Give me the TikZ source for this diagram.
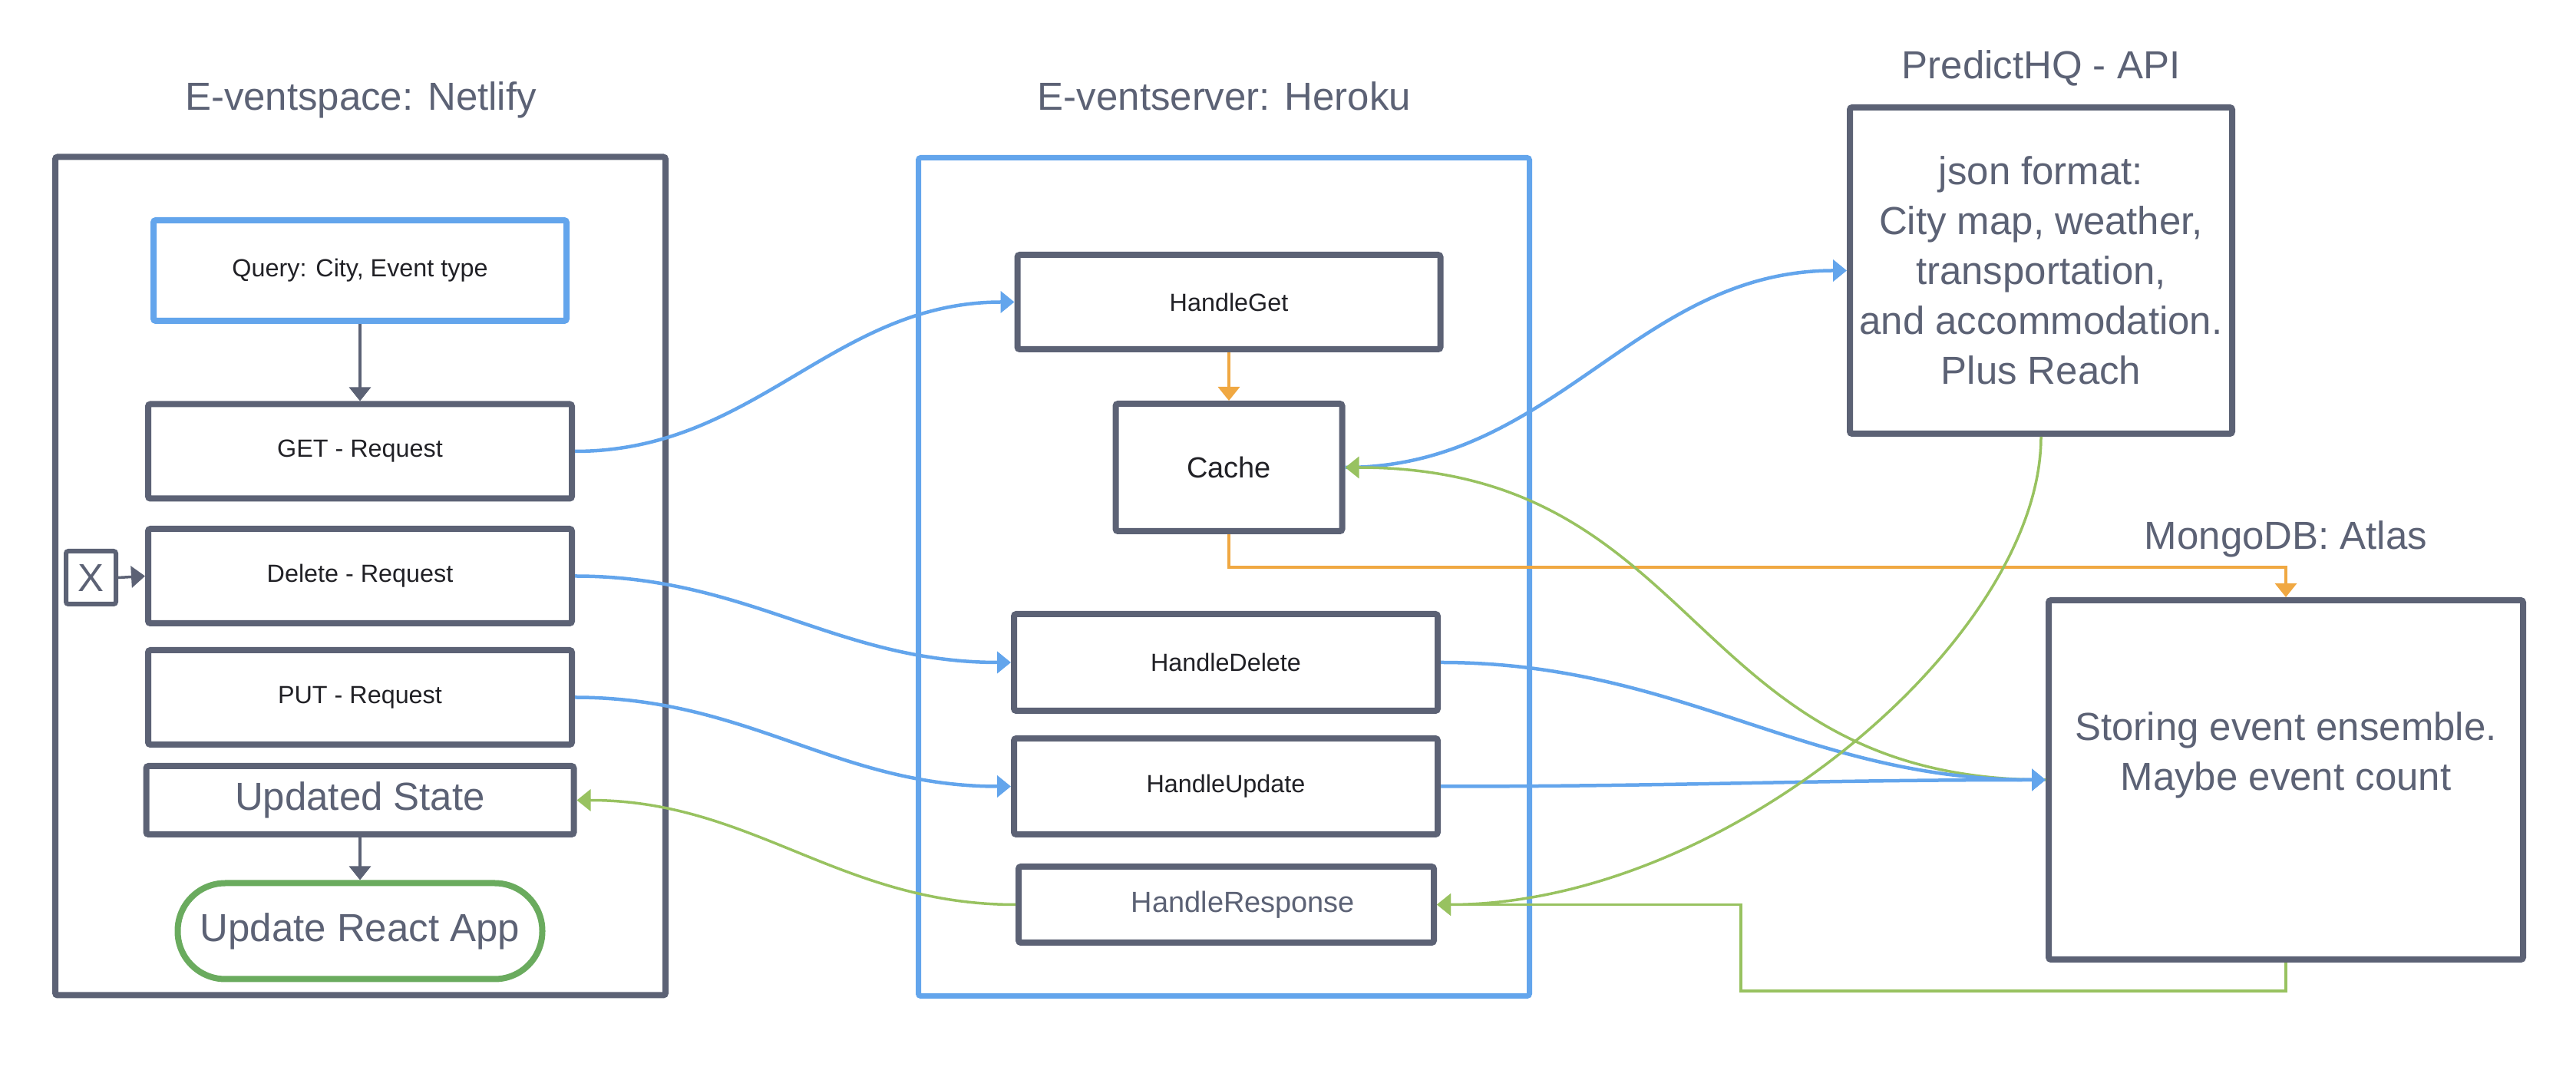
\documentclass[tikz,border=0pt]{standalone}
\usepackage{fontspec}
\setmainfont{Liberation Sans}
\usetikzlibrary{arrows.meta}

\definecolor{frame}{RGB}{92,98,117}
\definecolor{ink}{RGB}{33,33,38}
\definecolor{lineblue}{RGB}{99,165,236}
\definecolor{linegreen}{RGB}{152,194,96}
\definecolor{appgreen}{RGB}{106,171,94}
\definecolor{lineorange}{RGB}{240,168,66}

\newcommand{\bigtxt}{\fontsize{14.5}{18.5}\selectfont}
\newcommand{\midtxt}{\fontsize{10.8}{13}\selectfont}
\newcommand{\smalltxt}{\fontsize{9.2}{11}\selectfont}

\begin{document}
\begin{tikzpicture}[
  box/.style={draw=frame, line width=0.08cm, rounded corners=0.03cm, fill=white, inner sep=0pt, text=ink, font=\smalltxt},
  title/.style={text=frame, font=\bigtxt, anchor=base},
  flowtip/.style={-{Triangle[length=0.18cm,width=0.28cm]}},
  grayline/.style={flowtip, draw=frame, line width=0.035cm},
  blueline/.style={flowtip, draw=lineblue, line width=0.045cm},
  greenline/.style={flowtip, draw=linegreen, line width=0.035cm},
  orangeline/.style={flowtip, draw=lineorange, line width=0.035cm}
]
\useasboundingbox (0,0) rectangle (33.56,14.2);

%Containers
\node[draw=frame, line width=0.08cm, rounded corners=0.03cm, minimum width=7.95cm, minimum height=10.92cm, inner sep=0pt] (netlify) at (4.695,6.695) {};
\node[draw=lineblue, line width=0.07cm, rounded corners=0.03cm, minimum width=7.96cm, minimum height=10.92cm, inner sep=0pt] (heroku) at (15.945,6.685) {};

%Titles
\node[title] (netlifytitle) at (4.70,12.76) {E-ventspace: Netlify};
\node[title] (herokutitle) at (15.95,12.76) {E-ventserver: Heroku};
\node[title] (predicttitle) at (26.59,13.17) {PredictHQ - API};
\node[title] (mongotitle) at (29.78,7.04) {MongoDB: Atlas};

%Netlify
\node[box, draw=lineblue, minimum width=5.38cm, minimum height=1.31cm] (query) at (4.69,10.675) {Query: City, Event type};
\foreach \n/\y/\t in {get/8.32/GET - Request, del/6.695/Delete - Request, put/5.115/PUT - Request}
	\node[box, minimum width=5.52cm, minimum height=1.23cm] (\n) at (4.69,\y) {\t};
\node[box, text=frame, font=\bigtxt, minimum width=5.57cm, minimum height=0.89cm] (state) at (4.69,3.775) {Updated State};
\node[box, draw=appgreen, text=frame, font=\bigtxt, rounded corners=0.62cm, minimum width=4.75cm, minimum height=1.25cm] (react) at (4.69,2.07) {Update React App};
\node[box, text=frame, font=\bigtxt, line width=0.06cm, minimum width=0.65cm, minimum height=0.69cm] (xbtn) at (1.185,6.675) {X};

%Heroku
\node[box, minimum width=5.51cm, minimum height=1.23cm] (hget) at (16.01,10.265) {HandleGet};
\node[box, font=\midtxt, minimum width=2.95cm, minimum height=1.66cm] (cache) at (16.01,8.11) {Cache};
\node[box, minimum width=5.52cm, minimum height=1.26cm] (hdel) at (15.97,5.57) {HandleDelete};
\node[box, minimum width=5.52cm, minimum height=1.25cm] (hupd) at (15.97,3.955) {HandleUpdate};
\node[box, text=frame, font=\midtxt, minimum width=5.41cm, minimum height=0.99cm] (hresp) at (15.975,2.415) {\hspace{0.44cm}HandleResponse};

%API ja tietokanta
\node[box, text=frame, font=\bigtxt, align=center, minimum width=4.98cm, minimum height=4.25cm] (predict) at (26.59,10.675) {json format:\\City map, weather,\\transportation,\\and accommodation.\\Plus Reach};
\node[box, minimum width=6.18cm, minimum height=4.68cm] (mongo) at (29.78,4.04) {};
\node[text=frame, font=\bigtxt, align=center, inner sep=0pt] (mongotext) at (29.78,4.36) {Storing event ensemble.\\Maybe event count};

%Nuolet
\draw[grayline] (query.south) -- (get.north);
\draw[grayline] (xbtn.east) -- (del.west);
\draw[grayline] (state.south) -- (react.north);
\foreach \a/\b in {get/hget, del/hdel, put/hupd}
	\draw[blueline] (\a.east) to[out=0,in=180] (\b.west);
\draw[greenline] (hresp.west) to[out=180,in=0] (state.east);
\draw[orangeline] (hget.south) -- (cache.north);
\draw[orangeline] (cache.south) -- ++(0,-0.43) -| (mongo.north);
\draw[blueline] (cache.east) to[out=0,in=180] (predict.west);
\draw[greenline] (mongo.west) to[out=180,in=0,looseness=1.2] (cache.east);
\draw[blueline] (hdel.east) to[out=0,in=180] (mongo.west);
\draw[blueline] (hupd.east) to[out=0,in=180] (mongo.west);
\draw[greenline] (predict.south) .. controls +(0,-2.6) and +(3.8,0) .. (hresp.east);
\coordinate (loopcorner) at (22.68,1.29);
\draw[greenline] (mongo.south) |- (loopcorner) |- (hresp.east);

\end{tikzpicture}
\end{document}
